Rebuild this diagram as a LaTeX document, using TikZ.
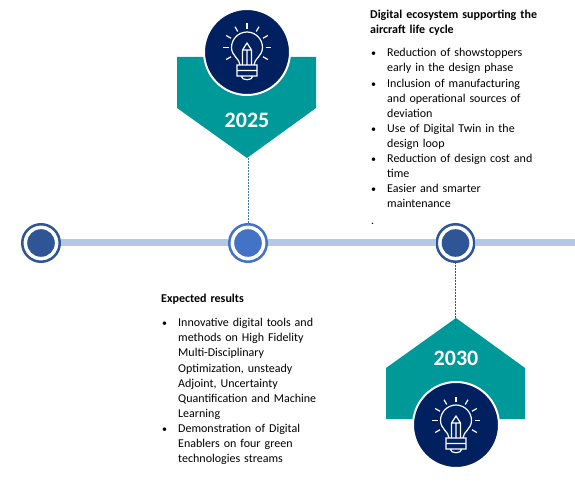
\documentclass[tikz,border=0pt]{standalone}
\usepackage{fontspec}
\setmainfont{Carlito}
\usepackage{enumitem}
\usetikzlibrary{calc,positioning}
\definecolor{tealbox}{HTML}{009999}
\definecolor{navydisc}{HTML}{002060}
\definecolor{barblue}{HTML}{B4C7E7}
\definecolor{darkmark}{HTML}{2F5597}
\definecolor{midmark}{HTML}{4472C4}
\setlist[itemize]{leftmargin=17pt,labelsep=11pt,topsep=0pt,itemsep=0pt,parsep=0pt,partopsep=0pt,label={\fontsize{10}{10}\selectfont\textbullet}}
\tikzset{
    bulbicon/.pic={
        \draw[white, line width=1.2pt]
            (-7,13) .. controls (-7,7) and (-15.5,4) .. (-15.5,-4.5)
            .. controls (-15.5,-13) and (-8.5,-20) .. (0,-20)
            .. controls (8.5,-20) and (15.5,-13) .. (15.5,-4.5)
            .. controls (15.5,4) and (7,7) .. (7,13);
        \draw[white, line width=1.2pt] (-10,13) -- (-10,24) -- (10,24) -- (10,13) -- cycle
            (-10,18.5) -- (10,18.5)
            (-6,24) .. controls (-5,29) and (5,29) .. (6,24);
        \draw[white, line width=1.2pt] (-4.5,13) -- (-4.5,-2) -- (0,-9) -- (4.5,-2) -- (4.5,13)
            (-4.5,-2) -- (4.5,-2) (0,-2) -- (0,13);
        \foreach \ang in {-120,-90,-60,-30,0,30,60,90,120}
            \draw[white, line width=1.2pt] ($(0,-4.5)+(\ang-90:18.5)$) -- ($(0,-4.5)+(\ang-90:24)$);
    }
}
\begin{document}
\begin{tikzpicture}[
        x=1pt,
        y=-1pt,
        marker/.style={
            circle,
            draw=#1,
            fill=white,
            line width=2.5pt,
            inner sep=0pt,
            minimum size=37.5pt,
            path picture={\fill[#1] (path picture bounding box.center) circle (13.8pt);}
        },
        disc/.style={
            circle,
            draw=white,
            fill=navydisc,
            line width=2pt,
            inner sep=0pt,
            minimum size=86pt
        },
        year/.style={
            text=white,
            font=\bfseries\fontsize{22}{24}\selectfont
        },
        dotline/.style={
            draw=#1,
            line width=0.5pt,
            densely dotted
        },
        notes/.style={
            anchor=north west,
            inner sep=0pt,
            text width=#1,
            align=left,
            font=\fontsize{12}{15.1}\selectfont
        }
    ]
        \useasboundingbox (0,0) rectangle (575,486);

        % time line
        \coordinate (barend) at (575,243);
        \node[marker=darkmark] (start) at (41,243) {};
        \node[marker=midmark] (m2025) at (248,243) {};
        \node[marker=darkmark] (m2030) at (455.5,243) {};
        \draw[barblue, line width=7pt] (start) -- (m2025);
        \draw[barblue, line width=7pt] (m2025) -- (m2030);
        \draw[barblue, line width=7pt] (m2030) -- (barend);

        % 2025 flag
        \fill[tealbox] (177,57) -- (316,57) -- (316,108) -- (247,158) -- (177,108) -- cycle;
        \coordinate (tip2025) at (248,158);
        \node[disc] (disc2025) at (247,52) {};
        \pic at (disc2025.center) {bulbicon};
        \node[year] (y2025) at (247,120) {2025};
        \draw[dotline=midmark] (tip2025) -- (m2025);

        % 2030 flag
        \fill[tealbox] (386,419) -- (525,419) -- (525,368) -- (456,318) -- (386,368) -- cycle;
        \coordinate (tip2030) at (455.5,328);
        \node[disc] (disc2030) at (456,425) {};
        \pic at (disc2030.center) {bulbicon};
        \node[year] (y2030) at (456,358) {2030};
        \draw[dotline=darkmark] (m2030) -- (tip2030);

        % texts
        \node[notes=180pt] (eco) at (370,10) {\textbf{Digital ecosystem supporting the\\aircraft life cycle}\par\vspace{8pt}
            \begin{itemize}
                \item Reduction of showstoppers\\early in the design phase
                \item Inclusion of manufacturing\\and operational sources of\\deviation
                \item Use of Digital Twin in the\\design loop
                \item Reduction of design cost and\\time
                \item Easier and smarter\\maintenance
            \end{itemize}\par\vspace{2pt}\hspace*{1pt}.};
        \node[notes=180pt] (results) at (161,294) {\textbf{Expected results}\par\vspace{9pt}
            \begin{itemize}
                \item Innovative digital tools and\\methods on High Fidelity\\Multi-Disciplinary\\Optimization, unsteady\\Adjoint, Uncertainty\\Quantification and Machine\\Learning
                \item Demonstration of Digital\\Enablers on four green\\technologies streams
            \end{itemize}};
    \end{tikzpicture}
\end{document}
